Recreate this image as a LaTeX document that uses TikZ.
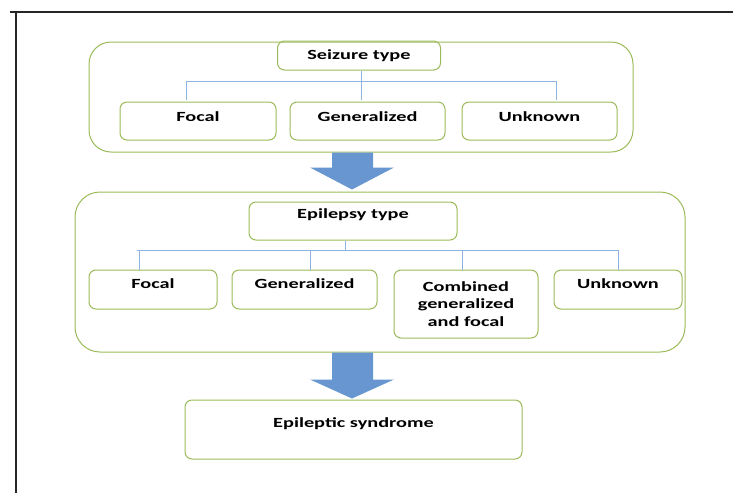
\documentclass[tikz,border=0pt]{standalone}
\usepackage{fontspec}
\setmainfont{Carlito}[FakeStretch=1.45]
\usetikzlibrary{calc}
\definecolor{boxgreen}{HTML}{9BBB59}
\definecolor{linkblue}{HTML}{8DB3E2}
\definecolor{arrowblue}{HTML}{6796D0}

\begin{document}
\begin{tikzpicture}[x=1pt,y=-1pt,
  every node/.style={font=\fontsize{14}{17.5}\selectfont\bfseries},
  panel/.style={draw=boxgreen,line width=1pt,rounded corners=22pt},
  item/.style={draw=boxgreen,line width=1pt,rounded corners=7pt,inner sep=0pt,align=center},
  link/.style={draw=linkblue,line width=1pt}]
  \useasboundingbox (0,0) rectangle (733,493);
  \draw[line width=1.6pt,black!85] (10,12) -- (733,12);
  \draw[line width=1.6pt,black!85] (16,12) -- (16,493);

  \node[panel,minimum width=544,minimum height=110] (panel1) at (361,97) {};
  \node[item,minimum width=163,minimum height=29] (seizure) at (359,55.5) {Seizure type};
  \node[item,minimum width=156,text height=19.5,text depth=18.5] (focal1) at (198,121) {Focal};
  \node[item,minimum width=155,text height=19.5,text depth=18.5] (gen1) at (367.5,121) {Generalized};
  \node[item,minimum width=155,text height=19.5,text depth=18.5] (unknown1) at (539.5,121) {Unknown};
  \coordinate (bus1) at (0,81);
  \draw[link] ([xshift=2]seizure.south) -- ([xshift=2]seizure.south |- bus1);
  \draw[link] ([xshift=-12]focal1.north |- bus1) -- ([xshift=16.5]unknown1.north |- bus1);
  \foreach \n/\dx in {focal1/-12,gen1/-6.5,unknown1/16.5}
    \draw[link] ([xshift=\dx]\n.north) ++(0,-2) -- ([xshift=\dx]\n.north |- bus1);

  \node[panel,minimum width=610,minimum height=160,rounded corners=25pt] (panel2) at (380,272) {};
  \node[item,minimum width=208,text height=16.5,text depth=21.5] (epilepsy) at (353,221) {Epilepsy type};
  \node[item,minimum width=128,text height=18.5,text depth=20.5] (focal2) at (153,289.5) {Focal};
  \node[item,minimum width=145,text height=18.5,text depth=20.5] (gen2) at (304.5,289.5) {Generalized};
  \node[item,minimum width=144,minimum height=68] (combined) at (466,304) {Combined\\generalized\\and focal};
  \node[item,minimum width=128,text height=18.5,text depth=20.5] (unknown2) at (618,289.5) {Unknown};
  \coordinate (bus2) at (0,250);
  \draw[link] ([xshift=-8]epilepsy.south) -- ([xshift=-8]epilepsy.south |- bus2);
  \draw[link] ([xshift=-16]focal2.north |- bus2) -- (unknown2.north |- bus2);
  \foreach \n/\dx in {focal2/-14,gen2/5.5,combined/-4,unknown2/0}
    \draw[link] ([xshift=\dx]\n.north) -- ([xshift=\dx]\n.north |- bus2);

  \node[item,minimum width=337,text height=27.5,text depth=31.5] (syndrome) at (353.5,429.5) {Epileptic syndrome};

  \path (panel1.south) ++(-9,0) coordinate (top1);
  \path (panel2.north) ++(-28,-2) coordinate (tip1);
  \fill[arrowblue] ($(top1)+(-20,0)$) -- ($(top1)+(21,0)$) -- ($(tip1)+(21,-22)$) -- ($(tip1)+(42,-22)$)
    -- (tip1) -- ($(tip1)+(-42,-22)$) -- ($(tip1)+(-20,-22)$) -- cycle;
  \path (panel2.south) ++(-28,0) coordinate (top2);
  \path (syndrome.north) ++(-1.5,-1) coordinate (tip2);
  \fill[arrowblue] ($(top2)+(-20,0)$) -- ($(top2)+(21,0)$) -- ($(tip2)+(21,-19)$) -- ($(tip2)+(42,-19)$)
    -- (tip2) -- ($(tip2)+(-42,-19)$) -- ($(tip2)+(-20,-19)$) -- cycle;
\end{tikzpicture}
\end{document}
